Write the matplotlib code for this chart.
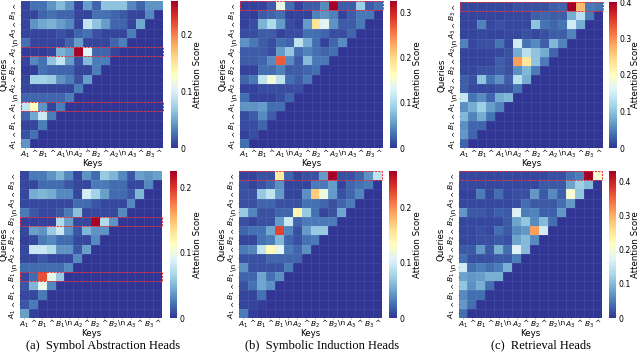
import matplotlib
matplotlib.use("Agg")
import matplotlib.pyplot as plt
import numpy as np
from matplotlib.patches import Rectangle

tokens = [r"$A_1$", "^", r"$B_1$", "^", r"$A_1$", r"\n", r"$A_2$", "^", r"$B_2$", "^", r"$A_2$", r"\n", r"$A_3$", "^", r"$B_3$", "^"]
tokens_b = [r"$A_1$", "^", r"$B_1$", "^", r"$B_1$", r"\n", r"$A_2$", "^", r"$B_2$", "^", r"$B_2$", r"\n", r"$A_3$", "^", r"$B_3$", "^"]

# Values in units of 0.01, rows from top to bottom
a_top = [
[0.7,2.5,2.5,4,6,4,0.7,4.5,2,6.5,6.5,6.5,3.5,2,4,4],
[0.7,0.7,2,2.5,2,2,0.7,0.7,2.5,2.5,2,1.5,0.7,0.7,3.5],
[0.7,4,5,5.5,4.5,3.5,0.7,9,6.5,4.5,2,2,0.7,5],
[0.7,0.7,0.7,0.7,1.2,0.7,2,2.5,1.2,0.7,0.7,0.7,3],
[2.5,0.7,0.7,0.7,0.7,2,4.5,0.7,0.7,0.7,2,3],
[0.4,0.4,0.4,0.7,5.5,4.5,26,10.5,2,2,0.7],
[0.7,3.5,2.5,6.5,9,4.5,1.2,6,3,3],
[0.4,0.4,2.5,2,2,2,0.7,0.7,3],
[0.7,7.5,7.5,7,4,3,1.2,4.5],
[0.7,0.7,0.7,0.7,0.7,0.7,3],
[2,2,2,2,2,3],
[9,13,4,0.7,3],
[2,5,9.5,3],
[0.7,0.7,3],
[1.2,2.5],
[4],
]
a_bottom = [
[0.7,2.5,2.5,3.5,5,3,0.7,3.5,2,6,5,3,1.2,4,3.5,4],
[0.7,0.7,2,2,2,1.2,0.7,0.7,2.5,2.5,2,2,0.7,0.7,3],
[0.7,4.5,5,4.5,3,3,0.7,8.5,6.5,4,2,2,1.2,5],
[0.7,0.7,0.7,0.7,0.7,0.7,2,2,1.2,0.7,0.7,0.7,3],
[2.5,1.2,0.7,0.7,1.2,2.5,5.5,0.7,0.7,0.7,0.7,3],
[0.4,0.4,0.4,0.4,7,4,0.7,0.7,22.5,7,3.5],
[0.7,4,3.5,6,8,3.5,1.2,5,3.5,3.5],
[0.4,0.7,2.5,3,2,2,0.7,0.7,3],
[0.7,8,8,7,3.5,3.5,1.2,4],
[0.7,0.7,1.2,0.7,0.7,0.7,3],
[2,2,2,2,2,3],
[0.7,2,19,9.5,6],
[1.2,5,9.5,3],
[0.7,0.7,2.5],
[1.2,2.5],
[4,0.4],
]
b_top = [
[0.7,0.7,0.7,2,14,3,0.7,2,2,4.5,32.5,2,2,9,2,3],
[0.7,0.4,2,2.5,3,0.7,0.7,0.7,4,5,4,0.7,2,3.5,3.5],
[0.7,1.2,7,10,5.5,1.2,0.7,5.5,19,13.5,5,2,2,3.5],
[1.2,1.2,2,2,0.7,1.2,1.2,3,3,2.5,1.2,1.2,2.5],
[5,3.5,2,1.2,3,2.5,11,6.5,3,0.7,2.5,4.5],
[2,2,2,1.2,5.5,8.5,3,4,3,2.5,3],
[2,2,2.5,4.5,27,4.5,2,7.5,3.5,3.5],
[0.7,0.7,3,3,4,2,2,2.5,3],
[2.5,3.5,11,15,11,3,2,3.5],
[0.7,0.7,1.2,1.2,1.2,1.2,1.2],
[3,0.7,0.7,0.7,1.2,2.5],
[5,5,5.5,3,3],
[1.2,2,4.5,2],
[1.2,1.2,2.5],
[0.7,1.2],
[3],
]
b_bottom = [
[0.7,0.7,1.2,1.2,15,2,0.7,1.2,1.2,4.5,26.5,1.2,1.2,2,4,9],
[1.2,0.7,1.2,2,4,0.7,0.7,0.7,3,3,4.5,0.7,2,2.5,3],
[1.2,1.2,7,9,4.5,0.7,0.7,4,17,12,4.5,1.2,2,3.5],
[1.2,1.2,2,2,1.2,1.2,1.2,2.5,2.5,2,1.2,2,3],
[7,3.5,1.2,1.2,2,2,14,7,2.5,0.7,1.2,5],
[1.2,0.7,1.2,1.2,4.5,9.5,2,3,3,3,3],
[2,2.5,2.5,5,23,3.5,1.2,4.5,7,7],
[0.7,0.7,2.5,3,6,2,1.2,2.5,3],
[3,3.5,9,13.5,11,3,2,4],
[1.2,1.2,1.2,2,2,2,2],
[4,1.2,1.2,1.2,1.2,3],
[2,2,5,2.5,4],
[1.2,2.5,5,4],
[0.7,0.7,2.5],
[0.7,0.7,0.4],
[3,0.4],
]
c_top = [
[1.2,1.2,1.2,1.2,1.2,1.2,1.8,1.8,1.8,1.8,2.5,3,40,27,4.5,4],
[1,1,1,1,1,1.2,1.2,1.2,2.5,3,2.5,2.5,8,13,4.5],
[1,1,5,1.2,1.8,1.2,1.2,1.2,10,4,3,4,15,8],
[1,1,1.2,1,1,1.2,1.2,1.8,1.2,1.8,2.5,2.5,5],
[5,1.2,1.8,1.8,4,1.2,15,4,5.5,2.5,9,5],
[1,1,1,1,1.2,1.8,8,13,10,8,3],
[1,1,1,1,2.5,1.8,29,23,10,4.5],
[1.2,1.2,1.8,1.8,2.5,1.8,6,9,4.5],
[2.5,1.8,10,4,6,2.5,13,8],
[2.5,1.2,1.2,1.2,1.8,1.8,4],
[14,4,5.5,3,8,9],
[6,8,11,7,5],
[9,5,8,4],
[6,3,3],
[6.5,3],
[3],
]
c_bottom = [
[1.2,1.2,1.2,1.2,1.2,1.2,1.2,1.2,1.2,1.2,1.8,1.8,4,5,43,20],
[1.2,1.2,1.2,1.2,1.2,1.2,1.2,1.2,1.2,2.5,2.5,2.5,8,12,10],
[1,1,5,1.2,4,1.2,1.8,1.8,7,2.5,6,3,20,11],
[1.2,1.2,1.2,1.2,1.2,1.2,1.8,4,2.5,2.5,2.5,4,7],
[7,2.5,2.5,1.8,3,2.5,17,5,5.5,3,3,7],
[1.2,1.2,1.2,1.2,1.2,2.5,8,11,6,10,4],
[1.2,1.2,1.8,1.2,4,2.5,6,7,31,16],
[1.2,1.2,1.8,1.8,2.5,1.8,8,10,6],
[2.5,2.5,7,2.5,9,4,17,10],
[4,1.8,1.8,1.8,2.5,2.5,5],
[16,4,5,4,5,9],
[8,7,7.5,9,9],
[11,6.5,9,4],
[6,4,4],
[7,4],
[4],
]

W, H = 640, 352
fig = plt.figure(figsize=(W / 100, H / 100), dpi=100)
cmap = plt.get_cmap("RdYlBu_r")
GRID = (0.75, 0.80, 0.95, 0.10)


def box(x0, y0, x1, y1):
    return [x0 / W, 1 - y1 / H, (x1 - x0) / W, (y1 - y0) / H]


def panel(rows, labels, rect, cb_rect, highlight, ticks, xq, xa, yk):
    m = np.zeros((16, 16))
    for i, r in enumerate(rows):
        m[i, :len(r)] = r
    m = m / 100
    ax = fig.add_axes(box(*rect))
    mesh = ax.pcolormesh(np.arange(17), np.arange(17), m, cmap=cmap, vmin=0, vmax=m.max(),
                         linewidth=0, rasterized=True)
    ax.set_xlim(0, 16)
    ax.set_ylim(16, 0)
    ax.vlines(np.arange(1, 16), 0, 16, color=GRID, linewidth=0.6)
    ax.hlines(np.arange(1, 16), 0, 16, color=GRID, linewidth=0.6)
    ax.set_xticks(np.arange(16) + 0.5, labels, fontsize=5.4)
    ax.set_yticks(np.arange(16) + 0.5, labels[::-1], fontsize=5.4, rotation=90, va="center")
    ax.tick_params(length=0.6, width=0.4, pad=0.6, color="#333333")
    for s in ax.spines.values():
        s.set_visible(False)
    for r in highlight:
        ax.add_patch(Rectangle((0, r), 16, 1, fill=False, edgecolor="#e8303a",
                               linestyle=(0, (2.2, 1.2)), linewidth=0.7, clip_on=False, zorder=5))
    fig.text(xq / W, 1 - (rect[1] + rect[3]) / 2 / H, "Queries", rotation=90, ha="center", va="center", fontsize=6.2)
    fig.text((rect[0] + rect[2]) / 2 / W, 1 - yk / H, "Keys", ha="center", va="center", fontsize=6.2)
    cax = fig.add_axes(box(*cb_rect))
    cb = fig.colorbar(mesh, cax=cax)
    cb.outline.set_visible(False)
    cb.set_ticks(ticks, labels=[("0" if t == 0 else f"{t:g}") for t in ticks])
    cb.ax.tick_params(length=0, pad=1.5, labelsize=5.6)
    fig.text(xa / W, 1 - (rect[1] + rect[3]) / 2 / H, "Attention Score", rotation=90, ha="center", va="center", fontsize=6.2)


panel(a_top, tokens, (20.7, 1, 163, 148), (170.7, 1, 178, 148), [5, 11], [0, 0.1, 0.2], 4, 198, 163.5)
panel(a_bottom, tokens_b, (20, 171, 162, 318), (169.5, 171, 177, 318), [5, 11], [0, 0.1, 0.2], 4, 197, 333.5)
panel(b_top, tokens, (240, 1, 383, 148), (389.5, 1, 397, 148), [0], [0, 0.1, 0.2, 0.3], 223, 417, 163.5)
panel(b_bottom, tokens_b, (239, 171, 382, 318), (389, 171, 397, 318), [0], [0, 0.1, 0.2], 222, 417, 333.5)
panel(c_top, tokens, (459.5, 2, 602.5, 148), (609, 2, 617, 148), [0], [0, 0.1, 0.2, 0.3, 0.4], 442, 636, 163.5)
panel(c_bottom, tokens_b, (458.5, 171, 602, 318), (608.5, 171, 616, 318), [0], [0, 0.1, 0.2, 0.3, 0.4], 441, 635.5, 333.5)

captions = ["(a)  Symbol Abstraction Heads", "(b)  Symbolic Induction Heads", "(c)  Retrieval Heads"]
cap_x = [103, 322, 541]
for x, c in zip(cap_x, captions):
    fig.text(x / W, 1 - 345.5 / H, c, ha="center", va="center", fontsize=9, family="Liberation Serif")

fig.savefig("out.png", dpi=100)
